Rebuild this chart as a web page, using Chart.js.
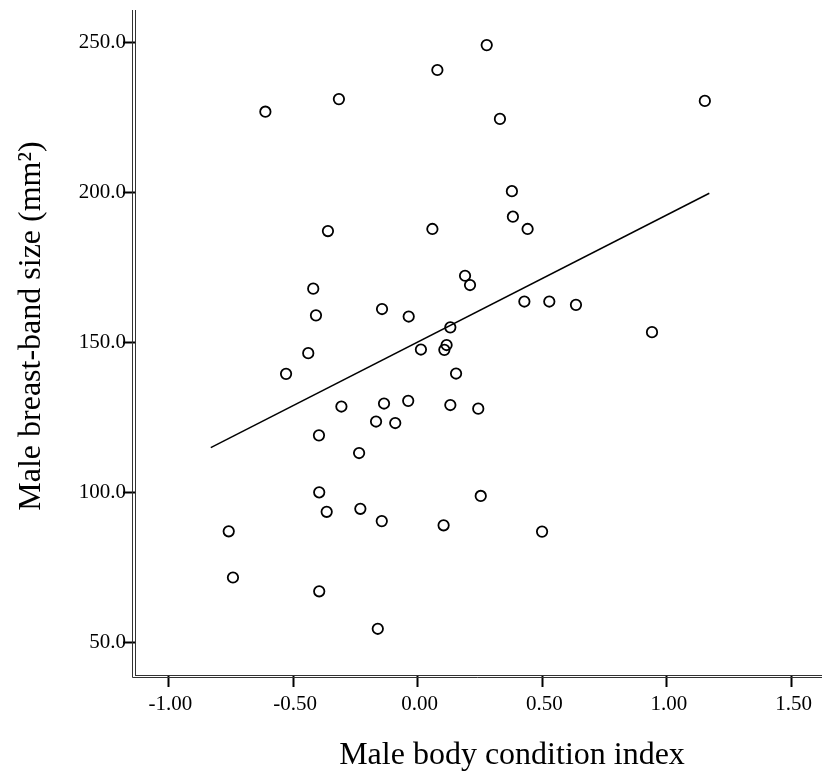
<!DOCTYPE html>
<html>
<head>
<meta charset="utf-8">
<script src="https://cdn.jsdelivr.net/npm/chart.js@4"></script>
<style>
  body { margin: 0; background: #fff; }
  canvas { display: block; }
</style>
</head>
<body>
<canvas id="chart" width="822" height="771"></canvas>
<script>
// values
const conditionIndex = [
  -0.611, -0.316, -0.360, -0.419, -0.408, -0.143, -0.036,
  0.277, 0.079, 0.330, 0.378, 0.382, 0.441, 0.059, 0.190, 0.210, 0.428, 0.528, 0.635, 0.131,
  1.152, 0.940,
  -0.439, -0.528, -0.306, -0.135, -0.038, -0.167, -0.090, -0.396, -0.235, -0.395, -0.365, -0.230,
  -0.144, -0.758, -0.741, -0.395, -0.160,
  0.013, 0.116, 0.107, 0.154, 0.131, 0.243, 0.253, 0.104, 0.499
];
const bandSize = [
  227.0, 231.2, 187.2, 168.0, 159.1, 161.2, 158.7,
  249.2, 240.9, 224.6, 200.5, 192.0, 187.9, 187.9, 172.3, 169.2, 163.7, 163.7, 162.6, 155.1,
  230.6, 153.5,
  146.5, 139.6, 128.7, 129.7, 130.6, 123.7, 123.2, 119.1, 113.2, 100.1, 93.6, 94.6,
  90.5, 87.1, 71.7, 67.1, 54.6,
  147.7, 149.2, 147.6, 139.7, 129.2, 128.0, 98.9, 89.1, 87.0
];
// fitted regression line, end points
const fitX = [-0.83, 1.17];
const fitY = [115.0, 199.8];

const xTickValues = [-1, -0.5, 0, 0.5, 1, 1.5];
const yTickValues = [50, 100, 150, 200, 250];
const xTitle = 'Male body condition index';
const yTitle = 'Male breast-band size (mm²)';

const serif = '"Liberation Serif", "Times New Roman", serif';

// second thin frame line outside the axes, plus the axis titles
const frameAndTitles = {
  id: 'frameAndTitles',
  afterDraw(chart) {
    const { ctx, chartArea: a } = chart;
    ctx.save();
    ctx.strokeStyle = '#333';
    ctx.lineWidth = 1;
    ctx.beginPath();
    ctx.moveTo(a.left - 2.5, a.top);
    ctx.lineTo(a.left - 2.5, a.bottom + 2.5);
    ctx.lineTo(a.right, a.bottom + 2.5);
    ctx.stroke();

    ctx.fillStyle = '#000';
    ctx.font = '32px ' + serif;
    ctx.textAlign = 'center';
    ctx.textBaseline = 'alphabetic';
    ctx.fillText(xTitle, 512, 764);
    ctx.translate(40, 326);
    ctx.rotate(-Math.PI / 2);
    ctx.fillText(yTitle, 0, 0);
    ctx.restore();
  }
};

const points = conditionIndex.map((x, i) => ({ x: x, y: bandSize[i] }));
const fitLine = fitX.map((x, i) => ({ x: x, y: fitY[i] }));

const gridOpts = {
  drawOnChartArea: false,
  drawTicks: true,
  tickLength: 12,
  tickWidth: 2,
  tickColor: '#000'
};

new Chart(document.getElementById('chart').getContext('2d'), {
  type: 'scatter',
  data: {
    datasets: [
      {
        data: points,
        pointRadius: 5.2,
        pointBorderWidth: 1.8,
        pointBorderColor: '#000',
        pointBackgroundColor: 'rgba(255,255,255,0)'
      },
      {
        type: 'line',
        data: fitLine,
        showLine: true,
        borderColor: '#000',
        borderWidth: 1.5,
        pointRadius: 0,
        fill: false
      }
    ]
  },
  options: {
    responsive: false,
    animation: false,
    events: [],
    layout: { autoPadding: false, padding: { top: 10, left: 0, right: 0, bottom: 0 } },
    plugins: {
      legend: { display: false },
      tooltip: { enabled: false }
    },
    scales: {
      x: {
        type: 'linear',
        min: -1.134,
        max: 1.622,
        afterBuildTicks: s => { s.ticks = xTickValues.map(v => ({ value: v })); },
        afterFit: s => {
          s.height = 96;
          s.paddingLeft = 0;
          s.paddingRight = 0;
        },
        grid: gridOpts,
        border: { display: true, color: '#333', width: 1 },
        ticks: {
          font: { family: serif, size: 21 },
          color: '#000',
          padding: 5,
          labelOffset: 2,
          maxRotation: 0,
          autoSkip: false,
          callback: v => v.toFixed(2)
        }
      },
      y: {
        type: 'linear',
        min: 39.2,
        max: 260.9,
        afterBuildTicks: s => { s.ticks = yTickValues.map(v => ({ value: v })); },
        afterFit: s => {
          s.width = 135;
          s.paddingTop = 0;
          s.paddingBottom = 0;
        },
        grid: gridOpts,
        border: { display: true, color: '#333', width: 1 },
        ticks: {
          font: { family: serif, size: 21 },
          color: '#000',
          padding: -3,
          autoSkip: false,
          callback: v => v.toFixed(1)
        }
      }
    }
  },
  plugins: [frameAndTitles]
});
</script>
</body>
</html>
